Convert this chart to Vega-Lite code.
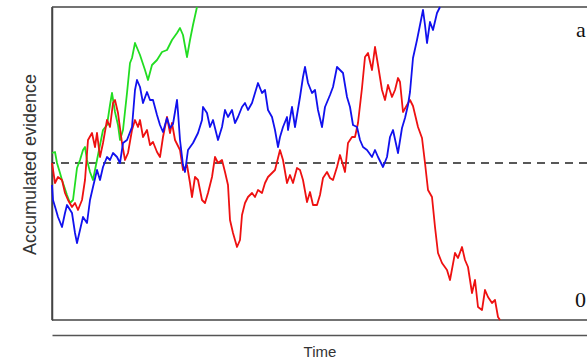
{
  "$schema": "https://vega.github.io/schema/vega-lite/v6.json",
  "width": 535,
  "height": 313,
  "autosize": "none",
  "padding": {"left": 52, "top": 7, "right": 0, "bottom": 41},
  "background": "white",
  "config": {"view": {"stroke": null}},
  "datasets": {
    "walks": [
      {"s":"green","t":0,"v":167},{"s":"green","t":3,"v":168},{"s":"green","t":5,"v":157},{"s":"green","t":8,"v":147},{"s":"green","t":10,"v":140},{"s":"green","t":15,"v":125},{"s":"green","t":18,"v":117},{"s":"green","t":21,"v":120},{"s":"green","t":25,"v":152},{"s":"green","t":28,"v":160},{"s":"green","t":31,"v":170},{"s":"green","t":33,"v":173},{"s":"green","t":35,"v":160},{"s":"green","t":38,"v":148},{"s":"green","t":41,"v":140},{"s":"green","t":45,"v":160},{"s":"green","t":48,"v":175},{"s":"green","t":51,"v":190},{"s":"green","t":55,"v":195},{"s":"green","t":58,"v":215},{"s":"green","t":60,"v":227},{"s":"green","t":63,"v":208},{"s":"green","t":66,"v":195},{"s":"green","t":68,"v":180},{"s":"green","t":71,"v":190},{"s":"green","t":75,"v":227},{"s":"green","t":78,"v":257},{"s":"green","t":80,"v":262},{"s":"green","t":83,"v":277},{"s":"green","t":88,"v":265},{"s":"green","t":93,"v":250},{"s":"green","t":96,"v":240},{"s":"green","t":100,"v":255},{"s":"green","t":105,"v":260},{"s":"green","t":110,"v":268},{"s":"green","t":115,"v":270},{"s":"green","t":120,"v":280},{"s":"green","t":125,"v":287},{"s":"green","t":128,"v":292},{"s":"green","t":131,"v":285},{"s":"green","t":135,"v":263},{"s":"green","t":138,"v":280},{"s":"green","t":141,"v":295},{"s":"green","t":145,"v":313},

      {"s":"red","t":0,"v":157},{"s":"red","t":3,"v":137},{"s":"red","t":6,"v":143},{"s":"red","t":10,"v":140},{"s":"red","t":13,"v":127},{"s":"red","t":16,"v":120},{"s":"red","t":20,"v":113},{"s":"red","t":23,"v":117},{"s":"red","t":26,"v":110},{"s":"red","t":30,"v":120},{"s":"red","t":33,"v":140},{"s":"red","t":36,"v":180},{"s":"red","t":40,"v":187},{"s":"red","t":43,"v":173},{"s":"red","t":45,"v":187},{"s":"red","t":48,"v":163},{"s":"red","t":51,"v":177},{"s":"red","t":55,"v":200},{"s":"red","t":58,"v":193},{"s":"red","t":61,"v":217},{"s":"red","t":63,"v":220},{"s":"red","t":66,"v":207},{"s":"red","t":70,"v":177},{"s":"red","t":73,"v":160},{"s":"red","t":76,"v":167},{"s":"red","t":80,"v":190},{"s":"red","t":83,"v":200},{"s":"red","t":86,"v":193},{"s":"red","t":88,"v":200},{"s":"red","t":91,"v":183},{"s":"red","t":95,"v":190},{"s":"red","t":98,"v":175},{"s":"red","t":101,"v":178},{"s":"red","t":105,"v":168},{"s":"red","t":108,"v":163},{"s":"red","t":111,"v":183},{"s":"red","t":115,"v":203},{"s":"red","t":118,"v":187},{"s":"red","t":120,"v":197},{"s":"red","t":123,"v":180},{"s":"red","t":128,"v":170},{"s":"red","t":131,"v":150},{"s":"red","t":135,"v":155},{"s":"red","t":138,"v":137},{"s":"red","t":140,"v":123},{"s":"red","t":143,"v":143},{"s":"red","t":146,"v":140},{"s":"red","t":150,"v":120},{"s":"red","t":153,"v":117},{"s":"red","t":156,"v":127},{"s":"red","t":160,"v":143},{"s":"red","t":163,"v":163},{"s":"red","t":166,"v":157},{"s":"red","t":170,"v":160},{"s":"red","t":173,"v":148},{"s":"red","t":176,"v":135},{"s":"red","t":178,"v":100},{"s":"red","t":181,"v":87},{"s":"red","t":185,"v":73},{"s":"red","t":188,"v":80},{"s":"red","t":190,"v":105},{"s":"red","t":193,"v":117},{"s":"red","t":196,"v":123},{"s":"red","t":200,"v":127},{"s":"red","t":203,"v":123},{"s":"red","t":206,"v":130},{"s":"red","t":210,"v":127},{"s":"red","t":213,"v":137},{"s":"red","t":216,"v":143},{"s":"red","t":220,"v":147},{"s":"red","t":223,"v":150},{"s":"red","t":225,"v":158},{"s":"red","t":228,"v":170},{"s":"red","t":231,"v":160},{"s":"red","t":235,"v":137},{"s":"red","t":238,"v":145},{"s":"red","t":241,"v":137},{"s":"red","t":245,"v":152},{"s":"red","t":248,"v":150},{"s":"red","t":251,"v":140},{"s":"red","t":255,"v":118},{"s":"red","t":258,"v":128},{"s":"red","t":261,"v":115},{"s":"red","t":265,"v":115},{"s":"red","t":268,"v":125},{"s":"red","t":271,"v":142},{"s":"red","t":275,"v":148},{"s":"red","t":278,"v":142},{"s":"red","t":281,"v":140},{"s":"red","t":285,"v":153},{"s":"red","t":288,"v":165},{"s":"red","t":291,"v":155},{"s":"red","t":293,"v":148},{"s":"red","t":296,"v":177},{"s":"red","t":300,"v":183},{"s":"red","t":303,"v":183},{"s":"red","t":306,"v":197},{"s":"red","t":310,"v":232},{"s":"red","t":313,"v":263},{"s":"red","t":316,"v":267},{"s":"red","t":320,"v":250},{"s":"red","t":323,"v":273},{"s":"red","t":326,"v":255},{"s":"red","t":330,"v":230},{"s":"red","t":333,"v":220},{"s":"red","t":336,"v":235},{"s":"red","t":340,"v":223},{"s":"red","t":343,"v":230},{"s":"red","t":346,"v":242},{"s":"red","t":348,"v":238},{"s":"red","t":351,"v":208},{"s":"red","t":355,"v":215},{"s":"red","t":358,"v":220},{"s":"red","t":361,"v":214},{"s":"red","t":366,"v":193},{"s":"red","t":370,"v":182},{"s":"red","t":373,"v":157},{"s":"red","t":376,"v":130},{"s":"red","t":380,"v":123},{"s":"red","t":383,"v":93},{"s":"red","t":386,"v":67},{"s":"red","t":390,"v":57},{"s":"red","t":395,"v":50},{"s":"red","t":398,"v":40},{"s":"red","t":403,"v":67},{"s":"red","t":406,"v":62},{"s":"red","t":410,"v":73},{"s":"red","t":413,"v":60},{"s":"red","t":416,"v":53},{"s":"red","t":420,"v":27},{"s":"red","t":423,"v":40},{"s":"red","t":426,"v":13},{"s":"red","t":430,"v":10},{"s":"red","t":433,"v":30},{"s":"red","t":436,"v":23},{"s":"red","t":440,"v":17},{"s":"red","t":443,"v":20},{"s":"red","t":446,"v":3},{"s":"red","t":448,"v":0},

      {"s":"blue","t":0,"v":135},{"s":"blue","t":1,"v":120},{"s":"blue","t":4,"v":110},{"s":"blue","t":6,"v":103},{"s":"blue","t":10,"v":93},{"s":"blue","t":13,"v":107},{"s":"blue","t":15,"v":115},{"s":"blue","t":20,"v":107},{"s":"blue","t":23,"v":87},{"s":"blue","t":25,"v":77},{"s":"blue","t":28,"v":90},{"s":"blue","t":31,"v":103},{"s":"blue","t":35,"v":97},{"s":"blue","t":38,"v":120},{"s":"blue","t":41,"v":133},{"s":"blue","t":45,"v":150},{"s":"blue","t":48,"v":140},{"s":"blue","t":51,"v":153},{"s":"blue","t":55,"v":163},{"s":"blue","t":58,"v":160},{"s":"blue","t":61,"v":167},{"s":"blue","t":65,"v":163},{"s":"blue","t":68,"v":157},{"s":"blue","t":71,"v":177},{"s":"blue","t":75,"v":180},{"s":"blue","t":80,"v":193},{"s":"blue","t":83,"v":230},{"s":"blue","t":85,"v":240},{"s":"blue","t":88,"v":233},{"s":"blue","t":91,"v":217},{"s":"blue","t":95,"v":228},{"s":"blue","t":98,"v":220},{"s":"blue","t":101,"v":220},{"s":"blue","t":105,"v":205},{"s":"blue","t":108,"v":195},{"s":"blue","t":111,"v":188},{"s":"blue","t":115,"v":202},{"s":"blue","t":118,"v":192},{"s":"blue","t":121,"v":196},{"s":"blue","t":125,"v":220},{"s":"blue","t":126,"v":208},{"s":"blue","t":128,"v":180},{"s":"blue","t":131,"v":155},{"s":"blue","t":133,"v":148},{"s":"blue","t":136,"v":170},{"s":"blue","t":141,"v":177},{"s":"blue","t":146,"v":187},{"s":"blue","t":150,"v":200},{"s":"blue","t":151,"v":213},{"s":"blue","t":155,"v":207},{"s":"blue","t":158,"v":193},{"s":"blue","t":161,"v":200},{"s":"blue","t":166,"v":180},{"s":"blue","t":170,"v":193},{"s":"blue","t":173,"v":210},{"s":"blue","t":176,"v":203},{"s":"blue","t":180,"v":210},{"s":"blue","t":183,"v":197},{"s":"blue","t":186,"v":203},{"s":"blue","t":190,"v":213},{"s":"blue","t":193,"v":217},{"s":"blue","t":196,"v":210},{"s":"blue","t":200,"v":217},{"s":"blue","t":203,"v":227},{"s":"blue","t":206,"v":237},{"s":"blue","t":210,"v":227},{"s":"blue","t":213,"v":230},{"s":"blue","t":216,"v":210},{"s":"blue","t":220,"v":203},{"s":"blue","t":223,"v":190},{"s":"blue","t":226,"v":173},{"s":"blue","t":228,"v":183},{"s":"blue","t":231,"v":193},{"s":"blue","t":235,"v":203},{"s":"blue","t":236,"v":190},{"s":"blue","t":240,"v":213},{"s":"blue","t":243,"v":193},{"s":"blue","t":248,"v":223},{"s":"blue","t":251,"v":243},{"s":"blue","t":253,"v":253},{"s":"blue","t":256,"v":237},{"s":"blue","t":260,"v":227},{"s":"blue","t":263,"v":230},{"s":"blue","t":266,"v":210},{"s":"blue","t":270,"v":193},{"s":"blue","t":273,"v":213},{"s":"blue","t":278,"v":225},{"s":"blue","t":281,"v":233},{"s":"blue","t":285,"v":253},{"s":"blue","t":288,"v":250},{"s":"blue","t":291,"v":247},{"s":"blue","t":295,"v":223},{"s":"blue","t":298,"v":213},{"s":"blue","t":301,"v":195},{"s":"blue","t":305,"v":193},{"s":"blue","t":308,"v":180},{"s":"blue","t":311,"v":173},{"s":"blue","t":315,"v":170},{"s":"blue","t":320,"v":163},{"s":"blue","t":323,"v":170},{"s":"blue","t":326,"v":163},{"s":"blue","t":331,"v":153},{"s":"blue","t":335,"v":163},{"s":"blue","t":338,"v":183},{"s":"blue","t":341,"v":190},{"s":"blue","t":346,"v":167},{"s":"blue","t":350,"v":192},{"s":"blue","t":353,"v":202},{"s":"blue","t":356,"v":215},{"s":"blue","t":358,"v":228},{"s":"blue","t":361,"v":262},{"s":"blue","t":365,"v":280},{"s":"blue","t":368,"v":295},{"s":"blue","t":371,"v":310},{"s":"blue","t":373,"v":295},{"s":"blue","t":375,"v":277},{"s":"blue","t":378,"v":298},{"s":"blue","t":381,"v":290},{"s":"blue","t":385,"v":307},{"s":"blue","t":388,"v":313}
    ],
    "one": [{"t": 0}]
  },
  "layer": [
    {
      "data": {"name": "one"},
      "mark": {"type": "rule", "color": "#444444", "strokeWidth": 1.5},
      "encoding": {
        "x": {"field": "t", "type": "quantitative", "scale": {"domain": [0, 535], "nice": false, "zero": false},
          "axis": {"orient": "bottom", "offset": 15, "domain": true, "domainColor": "#555555", "domainWidth": 1.5, "ticks": false, "labels": false, "grid": false, "title": "Time", "titleFont": "Liberation Sans", "titleFontSize": 15, "titleFontWeight": "normal", "titleColor": "#333333", "titlePadding": 9}},
        "y": {"datum": 0, "type": "quantitative", "scale": {"domain": [0, 313], "nice": false, "zero": false},
          "axis": {"orient": "left", "domain": true, "domainColor": "#444444", "domainWidth": 1.5, "ticks": false, "labels": false, "grid": false, "title": "Accumulated evidence", "titleFont": "Liberation Sans", "titleFontSize": 18, "titleFontWeight": "normal", "titleColor": "#333333", "titleAngle": -90, "titleBaseline": "middle", "titleX": -22, "titleY": 157}},
        "y2": {"datum": 313}
      }
    },
    {
      "data": {"name": "one"},
      "mark": {"type": "rule", "color": "#444444", "strokeWidth": 1.5},
      "encoding": {"y": {"datum": 0}}
    },
    {
      "data": {"name": "one"},
      "mark": {"type": "rule", "color": "#444444", "strokeWidth": 1.5},
      "encoding": {"y": {"datum": 313}}
    },
    {
      "data": {"name": "one"},
      "mark": {"type": "rule", "color": "#222222", "strokeWidth": 1.5, "strokeDash": [8, 6]},
      "encoding": {"y": {"datum": 157}}
    },
    {
      "data": {"name": "walks"},
      "mark": {"type": "line", "strokeWidth": 1.8, "interpolate": "linear", "strokeJoin": "round"},
      "encoding": {
        "x": {"field": "t", "type": "quantitative"},
        "y": {"field": "v", "type": "quantitative"},
        "color": {"field": "s", "type": "nominal", "legend": null,
          "scale": {"domain": ["red", "green", "blue"], "range": ["#ee1111", "#22dd22", "#1111ee"]}}
      }
    },
    {
      "data": {"values": [{"t": 524, "v": 283, "label": "a"}, {"t": 523, "v": 13, "label": "0"}]},
      "mark": {"type": "text", "align": "left", "baseline": "alphabetic", "font": "Liberation Serif", "fontSize": 22, "color": "#111111"},
      "encoding": {
        "x": {"field": "t", "type": "quantitative"},
        "y": {"field": "v", "type": "quantitative"},
        "text": {"field": "label"}
      }
    }
  ]
}
